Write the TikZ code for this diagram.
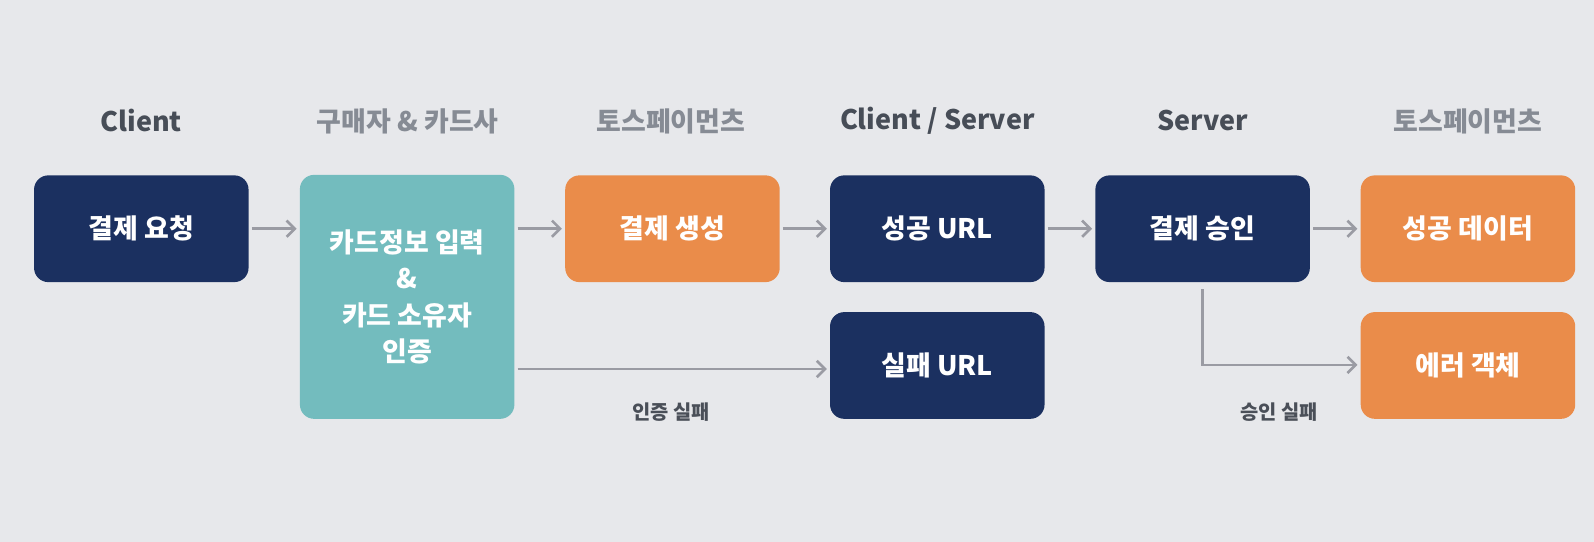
\documentclass[tikz,border=0pt]{standalone}
\usepackage{fontspec}
\setmainfont{Noto Sans CJK KR}
\usetikzlibrary{arrows.meta}
\definecolor{bgc}{HTML}{E7E8EB}
\definecolor{navy}{HTML}{1B3060}
\definecolor{teal}{HTML}{73BCBE}
\definecolor{orng}{HTML}{EA8C4A}
\definecolor{arr}{HTML}{9A9BA3}
\definecolor{hdark}{HTML}{474D57}
\definecolor{hgray}{HTML}{868B94}
\definecolor{lbl}{HTML}{4A4F58}
\tikzset{
  x=1pt, y=-1pt,
  box/.style={rounded corners=14pt, minimum width=211pt, minimum height=105pt, text=white,
    font=\fontsize{26.5}{36}\selectfont\bfseries, align=center, inner sep=0pt},
  navybox/.style={box, fill=navy},
  orangebox/.style={box, fill=orng},
  tealbox/.style={box, fill=teal, minimum height=240pt},
  hdr/.style={font=\fontsize{26.5}{30}\selectfont\bfseries},
  hdrd/.style={hdr, text=hdark},
  hdrg/.style={hdr, text=hgray},
  lab/.style={font=\fontsize{19.5}{22}\selectfont\bfseries, text=lbl},
  flow/.style={draw=arr, line width=2.6pt, -{Straight Barb[length=8pt,width=16pt,line width=2.6pt]}}
}
\begin{document}
\begin{tikzpicture}
\fill[bgc] (0,0) rectangle (1568,533);
\useasboundingbox (0,0) rectangle (1568,533);
% headers
\node[hdrd] (h1) at (139,119) {Client};
\node[hdrg] (h2) at (401,119) {구매자 \& 카드사};
\node[hdrg] (h3) at (660,119) {토스페이먼츠};
\node[hdrd] (h4) at (922,119) {Client / Server};
\node[hdrd] (h5) at (1183,119) {Server};
\node[hdrg] (h6) at (1444,119) {토스페이먼츠};
% boxes
\node[navybox] (req) at (139,225) {결제 요청};
\node[tealbox] (card) at (400.5,292) {카드정보 입력\\\&\\카드 소유자\\인증};
\node[orangebox] (create) at (661.5,225) {결제 생성};
\node[navybox] (surl) at (922,225) {성공 URL};
\node[navybox] (furl) at (922,359.5) {실패 URL};
\node[navybox] (approve) at (1183,225) {결제 승인};
\node[orangebox] (sdata) at (1444,225) {성공 데이터};
\node[orangebox] (err) at (1444,359.5) {에러 객체};
% arrows
\draw[flow] ([xshift=3pt]req.east) -- ([xshift=-3pt]req.east -| card.west);
\draw[flow] ([xshift=3pt]card.east |- create.west) -- ([xshift=-3pt]create.west);
\draw[flow] ([xshift=3pt]create.east) -- ([xshift=-3pt]surl.west);
\draw[flow] ([xshift=3pt]surl.east) -- ([xshift=-3pt]approve.west);
\draw[flow] ([xshift=3pt]approve.east) -- ([xshift=-3pt]sdata.west);
\draw[flow] ([xshift=3pt]card.east |- 0,363) -- ([xshift=-3pt]furl.west |- 0,363);
\draw[flow] ([yshift=-7pt]approve.south) |- ([xshift=-3pt]err.west |- 0,359);
\node[lab] (l1) at (660,405) {인증 실패};
\node[lab] (l2) at (1258,405) {승인 실패};
\end{tikzpicture}
\end{document}
